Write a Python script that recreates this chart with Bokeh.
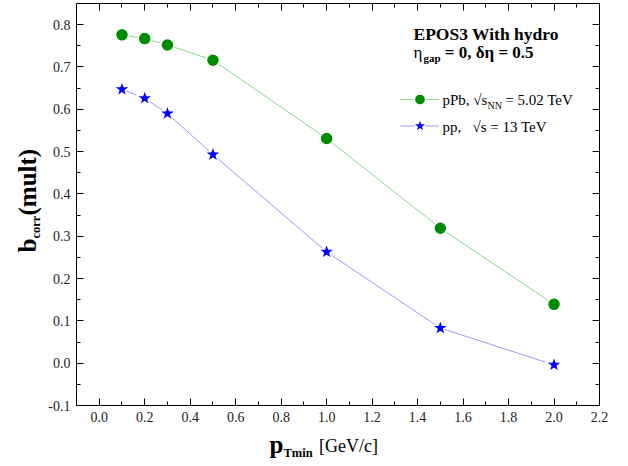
import math
from bokeh.plotting import figure
from bokeh.models import (ColumnDataSource, LinearAxis, FixedTicker, Range1d,
                          Label, Legend, LegendItem)
from bokeh.embed import file_html
from bokeh.resources import INLINE

# ---------------- data ----------------
pt_min = [0.1, 0.2, 0.3, 0.5, 1.0, 1.5, 2.0]
bcorr_pPb = [0.776, 0.767, 0.752, 0.716, 0.531, 0.319, 0.139]
bcorr_pp = [0.647, 0.626, 0.590, 0.493, 0.263, 0.083, -0.004]

x_ticks = [0.0, 0.2, 0.4, 0.6, 0.8, 1.0, 1.2, 1.4, 1.6, 1.8, 2.0, 2.2]
x_tick_labels = ["0.0", "0.2", "0.4", "0.6", "0.8", "1.0", "1.2", "1.4",
                 "1.6", "1.8", "2.0", "2.2"]
x_minor = [0.1, 0.3, 0.5, 0.7, 0.9, 1.1, 1.3, 1.5, 1.7, 1.9, 2.1]
y_ticks = [-0.1, 0.0, 0.1, 0.2, 0.3, 0.4, 0.5, 0.6, 0.7, 0.8]
y_tick_labels = ["-0.1", "0.0", "0.1", "0.2", "0.3", "0.4", "0.5", "0.6",
                 "0.7", "0.8"]
y_minor = [-0.05, 0.05, 0.15, 0.25, 0.35, 0.45, 0.55, 0.65, 0.75]
x_lo, x_hi = -0.1, 2.2
y_lo, y_hi = -0.1, 0.85

# ---------------- layout ----------------
W, H = 628, 466
# pixel box of the plotting area inside the canvas
LEFT, RIGHT, TOP, BOTTOM = 76, 599, 3, 405
SERIF = "Liberation Serif"

# the bokeh frame covers the whole canvas; the visible box is drawn by
# four axes fixed at the data limits, so texts outside it are not clipped
kx = (x_hi - x_lo) / (RIGHT - LEFT)
ky = (y_hi - y_lo) / (BOTTOM - TOP)
xr = Range1d(x_lo - LEFT * kx, x_hi + (W - RIGHT) * kx)
yr = Range1d(y_lo - (H - BOTTOM) * ky, y_hi + TOP * ky)

p = figure(width=W, height=H, x_range=xr, y_range=yr,
           output_backend="svg", toolbar_location=None,
           x_axis_location=None, y_axis_location=None,
           min_border_left=0, min_border_right=0,
           min_border_top=0, min_border_bottom=0)
p.xgrid.visible = False
p.ygrid.visible = False
p.outline_line_color = None
p.background_fill_color = "white"
p.border_fill_color = "white"


def make_axis(side, loc, bounds, ticks, minor, labels, show):
    ax = LinearAxis(fixed_location=loc, bounds=bounds)
    ax.ticker = FixedTicker(ticks=ticks, minor_ticks=minor)
    ax.major_tick_in = 7
    ax.major_tick_out = 0
    ax.minor_tick_in = 4
    ax.minor_tick_out = 0
    ax.axis_line_color = "black"
    ax.axis_line_width = 1
    ax.major_tick_line_color = "black"
    ax.minor_tick_line_color = "black"
    ax.axis_label = None
    ax.major_label_text_font = SERIF
    ax.major_label_text_color = "#222222"
    if show:
        ax.major_label_text_font_size = "14px"
        ax.major_label_standoff = 6
        ax.major_label_overrides = {t: s for t, s in zip(ticks, labels)}
    else:
        ax.major_label_text_font_size = "0px"
        ax.major_label_standoff = 0
        ax.major_label_overrides = {t: "" for t in ticks}
    p.add_layout(ax, side)


make_axis("below", y_lo, (x_lo, x_hi), x_ticks, x_minor, x_tick_labels, True)
make_axis("above", y_hi, (x_lo, x_hi), x_ticks, x_minor, x_tick_labels, False)
make_axis("left", x_lo, (y_lo, y_hi), y_ticks, y_minor, y_tick_labels, True)
make_axis("right", x_hi, (y_lo, y_hi), y_ticks, y_minor, y_tick_labels, False)

# ---------------- series ----------------
src_pPb = ColumnDataSource(dict(x=pt_min, y=bcorr_pPb))
src_pp = ColumnDataSource(dict(x=pt_min, y=bcorr_pp))

l1 = p.line("x", "y", source=src_pPb, line_color="#8fd68f", line_width=1)
s1 = p.scatter("x", "y", source=src_pPb, marker="circle", size=13,
               fill_color="#008c00", line_color="white", line_width=1.5)
l2 = p.line("x", "y", source=src_pp, line_color="#9a9aff", line_width=1)
s2 = p.scatter("x", "y", source=src_pp, marker="star", size=18,
               fill_color="#0000ff", line_color="white", line_width=1.5)


# one legend per entry, so that each sample row sits exactly where wanted
def add_legend(renderers, row_center, glyph_h):
    leg = Legend(items=[LegendItem(label=" ", renderers=renderers)],
                 location=(400, H - row_center - glyph_h / 2),
                 glyph_width=39, glyph_height=glyph_h, spacing=0, padding=0,
                 margin=0, border_line_alpha=0, background_fill_alpha=0,
                 label_standoff=0, label_width=0, label_height=0,
                 label_text_font_size="1px")
    p.add_layout(leg)


add_legend([l1, s1], 98.5, 28)
add_legend([l2, s2], 125.5, 39)

# ---------------- texts (canvas pixel positions of the baseline) ----------------
BASE_FIX = 0.28  # measured shift of bokeh's alphabetic baseline, in em


def lab(cx, cy, text, size, bold=True, rotated=False, color="black"):
    if rotated:
        cx -= BASE_FIX * size
    else:
        cy -= BASE_FIX * size
    p.add_layout(Label(x=cx, y=H - cy, x_units="screen", y_units="screen",
                       text=text, text_font=SERIF, text_font_size=f"{size}px",
                       text_font_style="bold" if bold else "normal",
                       text_color=color, text_align="left",
                       text_baseline="alphabetic",
                       angle=math.pi / 2 if rotated else 0.0))


NB = "\u00a0"
# legend header
lab(413, 38, "EPOS3 With hydro", 17.5)
lab(413, 57, "η", 17, bold=False)
lab(423, 61, "gap", 11)
lab(440, 57, NB + "= 0, δη = 0.5", 17)

# legend entries
lab(442, 104, "pPb, √s", 15, bold=False)
lab(487, 108, "NN", 10, bold=False)
lab(501, 104, NB + "= 5.02 TeV", 15, bold=False)
lab(442, 131, "pp," + NB * 3 + "√s = 13 TeV", 15, bold=False)

# x axis label
lab(269, 451, "p", 25)
lab(283, 456, "Tmin", 12.5)
lab(314, 451, NB + "[GeV/c]", 18, bold=False)

# y axis label (rotated, reads upward)
lab(34, 252, "b", 25, rotated=True)
lab(38.5, 238, "corr", 12.5, rotated=True)
lab(34, 215, "(mult)", 25, rotated=True)

open("out.html", "w").write(file_html(p, INLINE))
